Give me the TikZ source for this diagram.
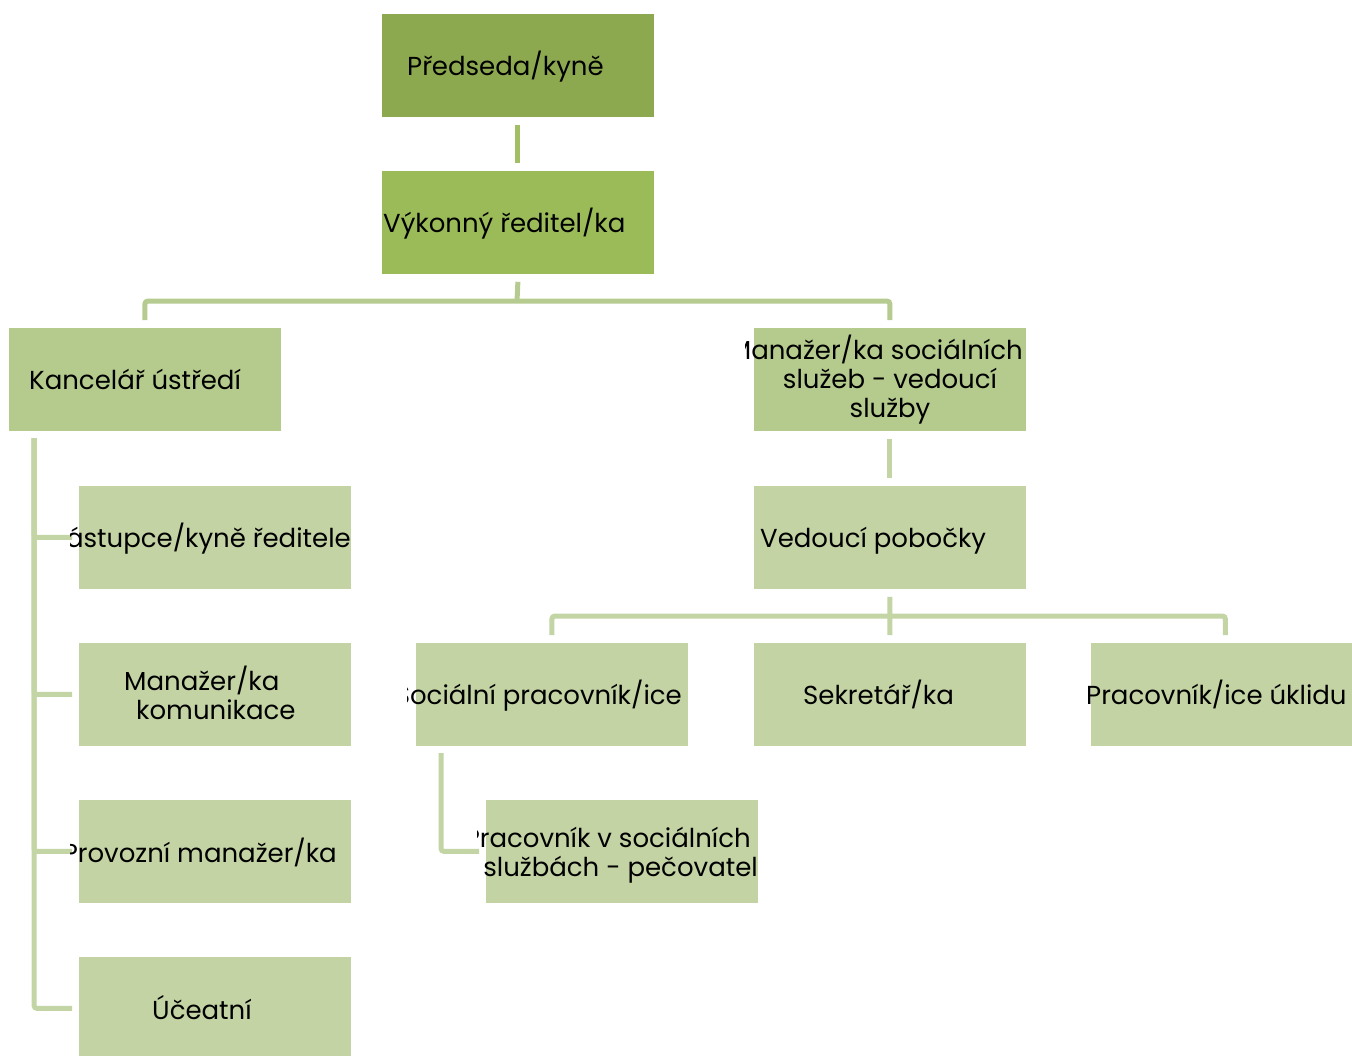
\documentclass[tikz,border=0pt]{standalone}
\usepackage{fontspec}
\setmainfont{Poppins}
\definecolor{cA}{HTML}{8DA94F}
\definecolor{cB}{HTML}{9BBB59}
\definecolor{cC}{HTML}{B4CB8D}
\definecolor{cD}{HTML}{C3D3A4}
\definecolor{lA}{HTML}{A3BF66}
\definecolor{lB}{HTML}{B5CB8F}
\definecolor{lC}{HTML}{C3D4A5}
\begin{document}
\begin{tikzpicture}[x=1pt,y=-1pt,
  box/.style={rectangle,draw=white,line width=0.8pt,minimum width=273pt,minimum height=104pt,inner sep=0pt,anchor=north west},
  txt/.style={inner sep=0pt,font=\fontsize{26}{29}\selectfont,text=black},
  conn/.style={line width=5pt,rounded corners=3pt}]
\useasboundingbox (0,0) rectangle (1352,1055);
% boxes
\node[box,fill=cA] (pred) at (381,13) {};
\node[box,fill=cB] (vyk) at (381,170) {};
\node[box,fill=cC] (kanc) at (8,327) {};
\node[box,fill=cC] (msoc) at (753,327) {};
\node[box,fill=cD] (zast) at (78,485) {};
\node[box,fill=cD] (mkom) at (78,642) {};
\node[box,fill=cD] (prov) at (78,799) {};
\node[box,fill=cD,minimum height=110pt] (ucet) at (78,956) {};
\node[box,fill=cD] (ved) at (753,485) {};
\node[box,fill=cD] (socp) at (415,642) {};
\node[box,fill=cD] (sekr) at (753,642) {};
\node[box,fill=cD,minimum width=270pt] (ukl) at (1090,642) {};
\node[box,fill=cD] (pec) at (485,799) {};
% connector points
\coordinate (busT) at (517,301);
\coordinate (busV) at (890,616);
\coordinate (colL) at (34,438);
\coordinate (colS) at (441,753);
% connectors
\draw[conn,draw=lA] ([yshift=-7pt]pred.south) -- ([yshift=7pt]vyk.north);
\draw[conn,draw=lB] ([yshift=-7pt]vyk.south) -- (busT);
\draw[conn,draw=lB] ([yshift=7pt]kanc.north) |- (busT) -| ([yshift=7pt]msoc.north);
\draw[conn,draw=lC] ([yshift=-7pt]msoc.south) -- ([yshift=7pt]ved.north);
\draw[conn,draw=lC] ([yshift=-7pt]ved.south) -- (busV);
\draw[conn,draw=lC] ([yshift=7pt]socp.north) |- (busV) -| ([yshift=7pt]ukl.north);
\draw[conn,draw=lC] (busV) -- ([yshift=7pt]sekr.north);
\draw[conn,draw=lC] (colL) |- ([xshift=-6pt]zast.west);
\draw[conn,draw=lC] (colL) |- ([xshift=-6pt]mkom.west);
\draw[conn,draw=lC] (colL) |- ([xshift=-6pt]prov.west);
\draw[conn,draw=lC] (colL) |- ([xshift=-6pt,yshift=3pt]ucet.west);
\draw[conn,draw=lC] (colS) |- ([xshift=-6pt]pec.west);
% texts
\node[txt,anchor=base west] (t1) at (407,75) {Předseda/kyně};
\node[txt,anchor=base west] (t2) at (383,232) {Výkonný ředitel/ka};
\node[txt,anchor=base west] (t3) at (29,389) {Kancelář ústředí};
\begin{scope}
\clip ([xshift=-8pt]msoc.north west) rectangle ([xshift=8pt]msoc.south east);
\node[txt,anchor=base east] (t4a) at (1023,359) {Manažer/ka sociálních};
\end{scope}
\node[txt,anchor=base] (t4b) at (890,388) {služeb - vedoucí};
\node[txt,anchor=base] (t4c) at (890,417) {služby};
\begin{scope}
\clip ([xshift=-8pt]zast.north west) rectangle ([xshift=8pt]zast.south east);
\node[txt,anchor=base east] (t5) at (351,547) {Zástupce/kyně ředitele};
\end{scope}
\node[txt,anchor=base west] (t6a) at (124,690) {Manažer/ka};
\node[txt,anchor=base west] (t6b) at (136,719) {komunikace};
\begin{scope}
\clip ([xshift=-8pt]prov.north west) rectangle ([xshift=8pt]prov.south east);
\node[txt,anchor=base east] (t7) at (337,862) {Provozní manažer/ka};
\end{scope}
\node[txt,anchor=base west] (t8) at (152,1019) {Účeatní};
\node[txt,anchor=base west] (t9) at (760,547) {Vedoucí pobočky};
\begin{scope}
\clip ([xshift=-8pt]socp.north west) rectangle ([xshift=8pt]socp.south east);
\node[txt,anchor=base east] (t10) at (682,704) {Sociální pracovník/ice};
\end{scope}
\node[txt,anchor=base west] (t11) at (803,704) {Sekretář/ka};
\node[txt,anchor=base west] (t12) at (1086,704) {Pracovník/ice úklidu};
\begin{scope}
\clip ([xshift=-8pt]pec.north west) rectangle ([xshift=8pt]pec.south east);
\node[txt,anchor=base east] (t13a) at (751,847) {Pracovník v sociálních};
\end{scope}
\node[txt,anchor=base east] (t13b) at (758,876) {službách - pečovatel};
\end{tikzpicture}
\end{document}
